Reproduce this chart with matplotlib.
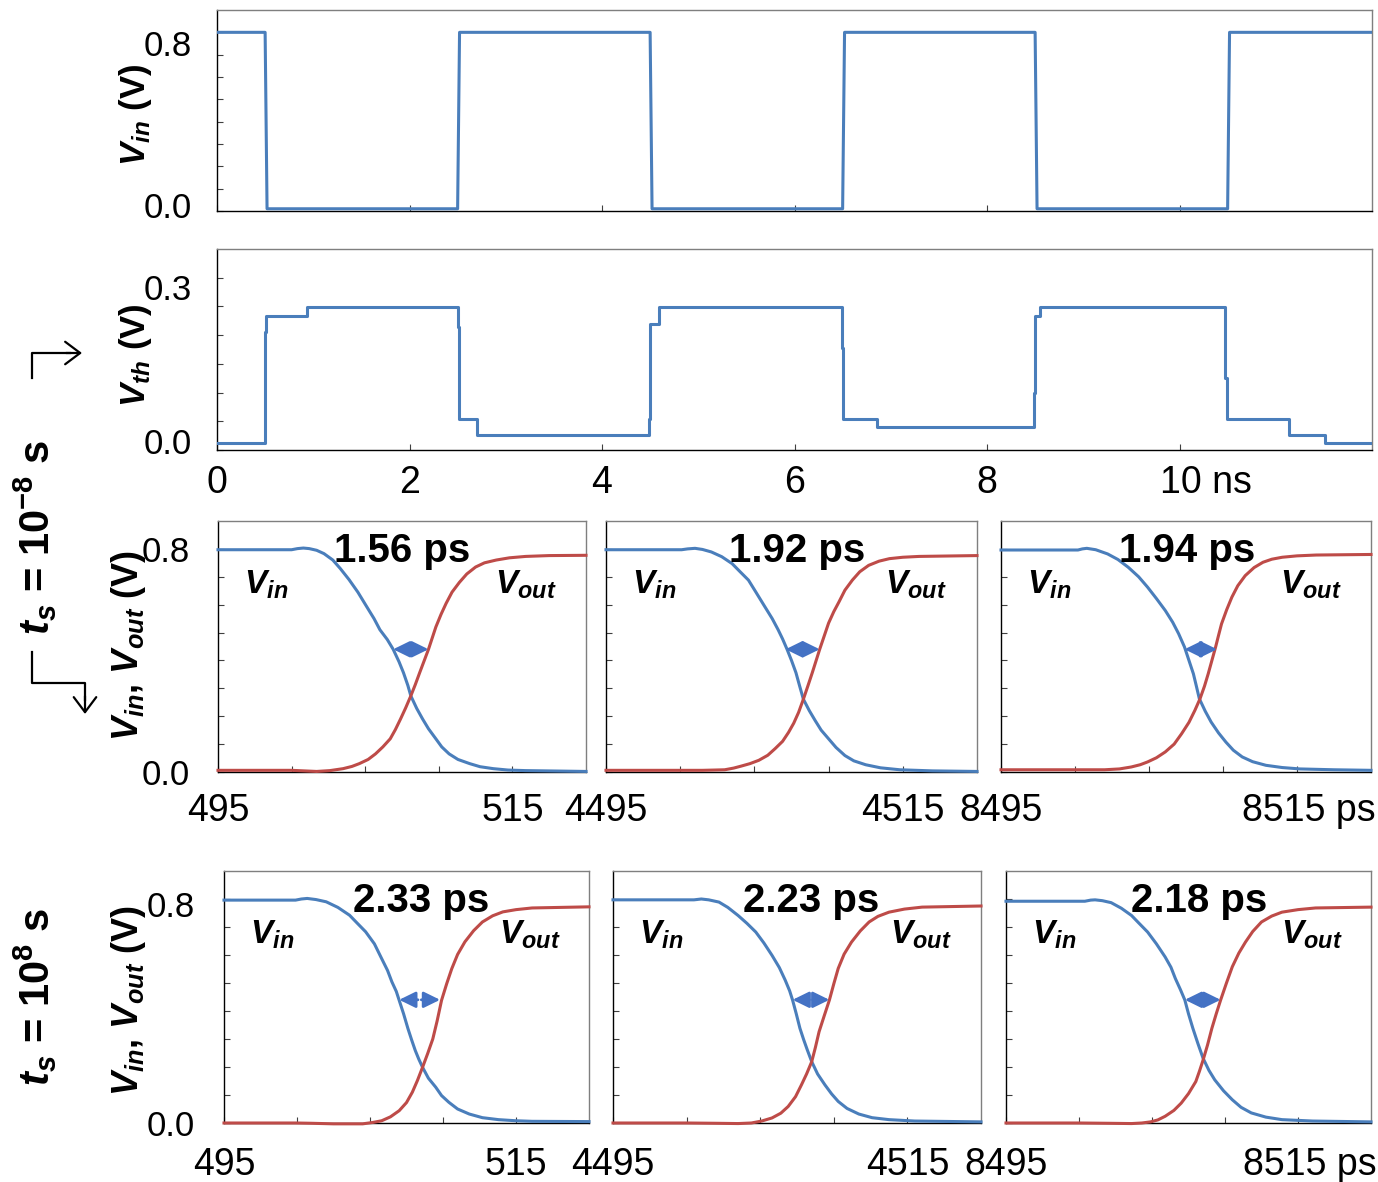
"""Inverter transient: input pulse train, threshold voltage and propagation delay panels."""

import matplotlib

matplotlib.use("Agg")
import matplotlib.pyplot as plt
from matplotlib.lines import Line2D
from matplotlib.transforms import ScaledTranslation

plt.rcParams["font.family"] = ["Liberation Sans", "DejaVu Sans"]
plt.rcParams["mathtext.fontset"] = "custom"
plt.rcParams["mathtext.rm"] = "Liberation Sans"
plt.rcParams["mathtext.it"] = "Liberation Sans:italic"
plt.rcParams["mathtext.bf"] = "Liberation Sans:bold"
plt.rcParams["mathtext.bfit"] = "Liberation Sans:italic:bold"

BLUE = "#4A7EBB"
RED = "#BE4B48"
ARROW = "#4472C4"

# ---- top panel: input pulse train (ns, V)
vin_t_ns = [0, 0.5, 0.52, 2.5, 2.52, 4.5, 4.52, 6.5, 6.52, 8.5, 8.52, 10.5, 10.52, 12]
vin_v = [0.8, 0.8, 0.01, 0.01, 0.8, 0.8, 0.01, 0.01, 0.8, 0.8, 0.01, 0.01, 0.8, 0.8]

# ---- second panel: threshold voltage (ns, V), step-post
vth_t_ns = [0, 0.50, 0.51, 0.93, 2.50, 2.51, 2.70, 4.49, 4.50, 4.59, 6.49, 6.50,
            6.86, 8.49, 8.50, 8.55, 10.47, 10.49, 11.14, 11.51, 12]
vth_v = [0.012, 0.205, 0.233, 0.249, 0.214, 0.054, 0.026, 0.054, 0.22, 0.249, 0.178, 0.054,
         0.04, 0.10, 0.233, 0.249, 0.125, 0.054, 0.026, 0.012, 0.012]

ns_ticks = [0, 2, 4, 6, 8, 10]
ns_labels = ["0", "2", "4", "6", "8", "10 ns"]

# ---- ts = 1e-8 s, three zoomed falling edges (ps, V)
fast1_vin_t = [495, 500, 500.4, 500.8, 501.2, 501.7, 502.2, 502.8, 503.3, 503.9, 504.5, 505.1,
               505.6, 506.0, 506.5, 506.9, 507.3, 507.6, 507.9, 508.1, 508.5, 508.9, 509.3,
               509.8, 510.2, 510.7, 511.3, 512.1, 512.8, 513.7, 514.7, 515.9, 520]
fast1_vin_v = [0.797, 0.797, 0.801, 0.803, 0.801, 0.795, 0.783, 0.76, 0.73, 0.69, 0.645, 0.593,
               0.55, 0.51, 0.475, 0.44, 0.395, 0.356, 0.31, 0.273, 0.228, 0.19, 0.155,
               0.119, 0.09, 0.065, 0.045, 0.03, 0.019, 0.012, 0.007, 0.005, 0.002]
fast1_vout_t = [495, 500, 501.7, 502.6, 503.5, 504.1, 504.6, 505.2, 505.7, 506.2, 506.7, 507.05,
                507.4, 507.75, 508.1, 508.4, 508.7, 509.0, 509.3, 509.55, 509.8, 510.15, 510.5,
                510.9, 511.4, 511.9, 512.5, 513.1, 513.9, 514.8, 515.9, 517.5, 520]
fast1_vout_v = [0.006, 0.006, 0.002, 0.005, 0.012, 0.02, 0.03, 0.045, 0.065, 0.09, 0.119, 0.152,
                0.19, 0.23, 0.273, 0.313, 0.356, 0.398, 0.44, 0.48, 0.52, 0.565, 0.605,
                0.645, 0.68, 0.71, 0.735, 0.75, 0.76, 0.768, 0.773, 0.776, 0.777]

fast2_vin_t = [4495, 4500.1, 4500.5, 4501, 4501.5, 4502.1, 4502.8, 4503.5, 4504.0, 4504.6,
               4505.1, 4505.7, 4506.2, 4506.6, 4506.9, 4507.2, 4507.5, 4507.8, 4508.05, 4508.3,
               4508.7, 4509.1, 4509.5, 4510.0, 4510.5, 4511.1, 4511.7, 4512.5, 4513.5, 4514.8,
               4517, 4520]
fast2_vin_v = [0.797, 0.797, 0.8, 0.802, 0.798, 0.789, 0.772, 0.747, 0.72, 0.688,
               0.645, 0.593, 0.55, 0.51, 0.477, 0.44, 0.4, 0.356, 0.308, 0.261,
               0.22, 0.184, 0.15, 0.119, 0.088, 0.059, 0.04, 0.026, 0.015, 0.008,
               0.004, 0.002]
fast2_vout_t = [4495, 4501.5, 4502.3, 4503.0, 4503.6, 4504.1, 4504.7, 4505.3, 4505.9, 4506.4,
                4506.9, 4507.3, 4507.65, 4507.98, 4508.3, 4508.6, 4508.9, 4509.15, 4509.4,
                4509.7, 4510.0, 4510.35, 4510.7, 4511.1, 4511.6, 4512.1, 4512.7, 4513.4,
                4514.1, 4515, 4516.1, 4520]
fast2_vout_v = [0.006, 0.006, 0.007, 0.008, 0.014, 0.021, 0.03, 0.042, 0.06, 0.084,
                0.11, 0.142, 0.175, 0.214, 0.261, 0.308, 0.356, 0.398, 0.44,
                0.487, 0.534, 0.575, 0.61, 0.652, 0.688, 0.718, 0.741, 0.756,
                0.765, 0.77, 0.773, 0.776]

fast3_vin_t = [8495, 8500.2, 8500.5, 8500.8, 8501.4, 8502.2, 8502.9, 8503.6, 8504.3, 8504.9,
               8505.5, 8506.1, 8506.6, 8507.0, 8507.4, 8507.7, 8508.0, 8508.2, 8508.4, 8508.8,
               8509.2, 8509.7, 8510.2, 8510.7, 8511.3, 8512.0, 8512.9, 8514, 8515.2, 8517.5, 8520]
fast3_vin_v = [0.796, 0.796, 0.8, 0.802, 0.797, 0.782, 0.762, 0.734, 0.7, 0.663,
               0.622, 0.579, 0.537, 0.496, 0.448, 0.4, 0.352, 0.308, 0.263, 0.218,
               0.179, 0.14, 0.107, 0.078, 0.054, 0.037, 0.024, 0.016, 0.011, 0.008, 0.006]
fast3_vout_t = [8495, 8502, 8503.0, 8503.8, 8504.4, 8504.9, 8505.5, 8506.1, 8506.7, 8507.2,
                8507.7, 8508.1, 8508.45, 8508.75, 8509.0, 8509.25, 8509.5, 8509.7, 8509.9,
                8510.25, 8510.6, 8511.0, 8511.5, 8512.1, 8512.7, 8513.3, 8514.0, 8515,
                8516.3, 8520]
fast3_vout_v = [0.008, 0.008, 0.011, 0.018, 0.026, 0.036, 0.051, 0.072, 0.1, 0.137,
                0.178, 0.221, 0.263, 0.308, 0.352, 0.4, 0.448, 0.49, 0.531,
                0.582, 0.627, 0.668, 0.704, 0.733, 0.752, 0.763, 0.77, 0.775,
                0.778, 0.78]

fast_delays = ["1.56 ps", "1.92 ps", "1.94 ps"]
fast_arrows = [(506.9, 509.3, 0.44), (4507.1, 4509.4, 0.44), (8507.4, 8509.6, 0.44)]

# ---- ts = 1e8 s
slow1_vin_t = [495, 499.9, 500.3, 500.7, 501.3, 502.0, 502.8, 503.6, 504.1, 504.7, 505.3,
               505.8, 506.2, 506.5, 506.8, 507.0, 507.3, 507.6, 507.85, 508.1, 508.35, 508.6,
               509.0, 509.5, 509.9, 510.4, 511.0, 511.8, 512.7, 513.8, 515, 516.1, 520]
slow1_vin_v = [0.796, 0.796, 0.8, 0.802, 0.798, 0.79, 0.77, 0.742, 0.715, 0.683, 0.64,
               0.587, 0.545, 0.504, 0.47, 0.438, 0.39, 0.337, 0.297, 0.259, 0.227, 0.199,
               0.16, 0.128, 0.098, 0.074, 0.05, 0.032, 0.019, 0.012, 0.008, 0.006, 0.005]
slow1_vout_t = [495, 499.9, 501, 502.5, 504.5, 505.2, 505.8, 506.4, 507.0, 507.5, 507.9,
                508.25, 508.6, 508.95, 509.3, 509.6, 509.9, 510.25, 510.6, 511.0, 511.5,
                512.1, 512.7, 513.4, 514.1, 515, 516.1, 520]
slow1_vout_v = [0.0, 0.0, -0.001, -0.003, -0.003, 0.002, 0.008, 0.022, 0.044, 0.073, 0.11,
                0.152, 0.199, 0.248, 0.3, 0.365, 0.438, 0.497, 0.551, 0.602, 0.647,
                0.687, 0.718, 0.74, 0.754, 0.762, 0.768, 0.772]

slow2_vin_t = [4495, 4500.5, 4501, 4501.5, 4502.2, 4502.8, 4503.5, 4504.1, 4504.7, 4505.25,
               4505.8, 4506.3, 4506.7, 4507.0, 4507.2, 4507.45, 4507.7, 4507.95, 4508.2,
               4508.5, 4508.9, 4509.4, 4509.85, 4510.3, 4510.9, 4511.7, 4512.6, 4513.75,
               4515.5, 4520]
slow2_vin_v = [0.797, 0.797, 0.8, 0.797, 0.789, 0.77, 0.741, 0.713, 0.682, 0.643,
               0.599, 0.555, 0.51, 0.472, 0.439, 0.39, 0.338, 0.298, 0.261,
               0.219, 0.175, 0.136, 0.104, 0.077, 0.052, 0.032, 0.019, 0.012,
               0.007, 0.004]
slow2_vout_t = [4495, 4500, 4502, 4503.5, 4504.4, 4505.1, 4505.8, 4506.4, 4506.9, 4507.4,
                4507.8, 4508.15, 4508.5, 4508.75, 4509.0, 4509.35, 4509.7, 4510.0, 4510.3,
                4510.7, 4511.2, 4511.8, 4512.4, 4513.0, 4513.75, 4514.8, 4516.0, 4520]
slow2_vout_v = [0.0, 0.0, -0.001, -0.002, 0.0, 0.007, 0.018, 0.035, 0.059, 0.094,
                0.136, 0.175, 0.219, 0.27, 0.326, 0.383, 0.439, 0.497, 0.552,
                0.603, 0.646, 0.686, 0.718, 0.738, 0.753, 0.764, 0.771, 0.775]

slow3_vin_t = [8495, 8500.4, 8500.8, 8501.1, 8501.6, 8502.2, 8502.9, 8503.6, 8504.1, 8504.7,
               8505.3, 8505.9, 8506.3, 8506.6, 8506.95, 8507.25, 8507.5, 8507.8, 8508.15,
               8508.5, 8508.9, 8509.3, 8509.9, 8510.5, 8511.1, 8511.8, 8512.8, 8513.9,
               8516, 8520]
slow3_vin_v = [0.792, 0.792, 0.796, 0.797, 0.794, 0.787, 0.767, 0.741, 0.714, 0.682,
               0.64, 0.593, 0.556, 0.516, 0.476, 0.439, 0.39, 0.338, 0.283,
               0.231, 0.188, 0.154, 0.115, 0.083, 0.056, 0.036, 0.021, 0.012,
               0.007, 0.004]
slow3_vout_t = [8495, 8500, 8502, 8503.6, 8504.3, 8504.9, 8505.4, 8505.9, 8506.5, 8507.0,
                8507.5, 8508.0, 8508.25, 8508.5, 8508.8, 8509.1, 8509.4, 8509.7, 8510.1,
                8510.5, 8510.95, 8511.4, 8511.9, 8512.5, 8513.2, 8513.9, 8515, 8516.2, 8520]
slow3_vout_v = [0.0, 0.0, -0.001, -0.002, 0.0, 0.004, 0.011, 0.024, 0.045, 0.071,
                0.105, 0.148, 0.185, 0.225, 0.278, 0.338, 0.39, 0.439, 0.5,
                0.558, 0.607, 0.646, 0.684, 0.718, 0.739, 0.753, 0.762, 0.768, 0.771]

slow_delays = ["2.33 ps", "2.23 ps", "2.18 ps"]
slow_arrows = [(507.0, 509.8, 0.44), (4507.2, 4509.7, 0.44), (8507.25, 8509.7, 0.44)]

zoom_starts = [495, 4495, 8495]
zoom_labels = [("495", "515"), ("4495", "4515"), ("8495", "8515 ps")]
volt_ticks = [0.0, 0.1, 0.2, 0.3, 0.4, 0.5, 0.6, 0.7, 0.8]
volt_labels = ["0.0", "", "", "", "", "", "", "", "0.8"]
vth_ticks = [0.0, 0.05, 0.1, 0.15, 0.2, 0.25, 0.3]
vth_labels = ["0.0", "", "", "", "", "", "0.3"]

W, H = 1378, 1182
fig = plt.figure(figsize=(W / 100, H / 100), dpi=100)


def px_box(left, top, right, bottom):
    return [left / W, 1 - bottom / H, (right - left) / W, (bottom - top) / H]


def shift(label, dx, dy):
    label.set_transform(label.get_transform() + ScaledTranslation(dx / 100, -dy / 100, fig.dpi_scale_trans))


def style_axes(ax):
    for side in ("left", "bottom"):
        ax.spines[side].set_color("black")
    for side in ("top", "right"):
        ax.spines[side].set_color("#7f7f7f")
    for spine in ax.spines.values():
        spine.set_linewidth(1.0)
    ax.tick_params(direction="in", length=4, width=0.8, color="#404040")
    ax.tick_params(axis="y", labelsize=25)
    ax.tick_params(axis="x", labelsize=27)


MATH_VIN = r"$\mathbfit{V}_{\mathbfit{in}}$"
MATH_VOUT = r"$\mathbfit{V}_{\mathbfit{out}}$"

# ---------- panel 1: Vin
ax1 = fig.add_axes(px_box(217, 10, 1372, 211))
style_axes(ax1)
ax1.plot(vin_t_ns, vin_v, color=BLUE, lw=2.2, zorder=3)
ax1.set_xlim(0, 12)
ax1.set_ylim(0, 0.9)
ax1.set_xticks(ns_ticks)
ax1.set_xticklabels([])
ax1.set_yticks(volt_ticks)
ax1.set_yticklabels(volt_labels)
ax1.tick_params(axis="y", pad=18)
ylabs = ax1.get_yticklabels()
shift(ylabs[0], 0, -6)
shift(ylabs[-1], 0, 11)

# ---------- panel 2: Vth
ax2 = fig.add_axes(px_box(217, 249, 1372, 450))
style_axes(ax2)
ax2.plot(vth_t_ns, vth_v, color=BLUE, lw=2.2, drawstyle="steps-post", zorder=3)
ax2.set_xlim(0, 12)
ax2.set_ylim(0, 0.35)
ax2.set_xticks(ns_ticks)
ax2.set_xticklabels(ns_labels)
ax2.set_yticks(vth_ticks)
ax2.set_yticklabels(vth_labels)
ax2.tick_params(axis="y", pad=18)
ax2.tick_params(axis="x", pad=11)
ylabs = ax2.get_yticklabels()
shift(ylabs[0], 0, -9)
shift(ylabs[-1], 0, 9)
shift(ax2.get_xticklabels()[-1], 26, 0)

fig.text(135 / W, 1 - 115 / H, MATH_VIN + " (V)", rotation=90, ha="center", va="center",
         fontsize=25, fontweight="bold")
fig.text(135 / W, 1 - 355 / H, r"$\mathbfit{V}_{\mathbfit{th}}$ (V)", rotation=90,
         ha="center", va="center", fontsize=25, fontweight="bold")


def zoom_row(boxes, vins, vouts, delays, arrows, text_x, ylab_y, xpad, ypad, ylab_dy):
    for i, box in enumerate(boxes):
        ax = fig.add_axes(px_box(*box))
        style_axes(ax)
        (vt, vv), (ot, ov) = vins[i], vouts[i]
        ax.plot(vt, vv, color=BLUE, lw=2.2, zorder=3, clip_on=False, solid_joinstyle="round")
        ax.plot(ot, ov, color=RED, lw=2.2, zorder=3, clip_on=False, solid_joinstyle="round")
        start = zoom_starts[i]
        ax.set_xlim(start, start + 25)
        ax.set_ylim(0, 0.9)
        ax.set_xticks([start + k for k in (0, 5, 10, 15, 20)])
        lo, hi = zoom_labels[i]
        ax.set_xticklabels([lo, "", "", "", hi])
        ax.tick_params(axis="x", pad=xpad)
        ax.set_yticks(volt_ticks)
        if i == 0:
            ax.set_yticklabels(volt_labels)
            ax.tick_params(axis="y", pad=ypad)
            shift(ax.get_yticklabels()[-1], 0, ylab_dy)
        else:
            ax.set_yticklabels([])
        if i == 2:
            shift(ax.get_xticklabels()[-1], 12, 0)

        t0, t1, v = arrows[i]
        mid = (t0 + t1) / 2
        for end in (t0, t1):
            ax.annotate("", xy=(end, v), xytext=(mid, v),
                        arrowprops=dict(arrowstyle="-|>,head_length=0.55,head_width=0.27",
                                        color=ARROW, lw=2, mutation_scale=18,
                                        shrinkA=1.2, shrinkB=0), zorder=4)
        ax.text(text_x[i], 0.88, delays[i], transform=ax.transAxes, ha="center", va="center",
                fontsize=29, fontweight="bold", zorder=5)
        ax.text(0.07, 0.745, MATH_VIN, transform=ax.transAxes, ha="left", va="center", fontsize=24)
        ax.text(0.753, 0.745, MATH_VOUT, transform=ax.transAxes, ha="left", va="center", fontsize=24)

    fig.text(129 / W, 1 - ylab_y / H, MATH_VIN + ", " + MATH_VOUT + " (V)", rotation=90,
             ha="center", va="center", fontsize=26, fontweight="bold")


zoom_row([(218, 521, 586, 772), (606, 521, 977, 772), (1001, 521, 1371, 772)],
         [(fast1_vin_t, fast1_vin_v), (fast2_vin_t, fast2_vin_v), (fast3_vin_t, fast3_vin_v)],
         [(fast1_vout_t, fast1_vout_v), (fast2_vout_t, fast2_vout_v), (fast3_vout_t, fast3_vout_v)],
         fast_delays, fast_arrows, [0.50, 0.515, 0.503], 645, 15, 20, 0)

zoom_row([(224, 871, 589, 1123), (613, 871, 981, 1123), (1006, 871, 1371, 1123)],
         [(slow1_vin_t, slow1_vin_v), (slow2_vin_t, slow2_vin_v), (slow3_vin_t, slow3_vin_v)],
         [(slow1_vout_t, slow1_vout_v), (slow2_vout_t, slow2_vout_v), (slow3_vout_t, slow3_vout_v)],
         slow_delays, slow_arrows, [0.54, 0.538, 0.529], 1000, 17, 21, 5)

# ---------- left-hand condition labels and bent arrows
fig.text(35 / W, 1 - 537 / H, r"$\mathbfit{t}_{\mathbfit{s}}$ = 10$^{\mathbf{-8}}$ s", rotation=90,
         ha="center", va="center", fontsize=30, fontweight="bold")
fig.text(35 / W, 1 - 997 / H, r"$\mathbfit{t}_{\mathbfit{s}}$ = 10$^{\mathbf{8}}$ s", rotation=90,
         ha="center", va="center", fontsize=30, fontweight="bold")

fig.add_artist(Line2D([32 / W, 32 / W, 70 / W], [1 - 378 / H, 1 - 353 / H, 1 - 353 / H],
                      transform=fig.transFigure, color="black", lw=1.6))
fig.add_artist(Line2D([32 / W, 32 / W, 85 / W, 85 / W],
                      [1 - 652 / H, 1 - 683 / H, 1 - 683 / H, 1 - 700 / H],
                      transform=fig.transFigure, color="black", lw=1.6))
plt.annotate("", xy=(82 / W, 1 - 353 / H), xytext=(66 / W, 1 - 353 / H), xycoords="figure fraction",
             arrowprops=dict(arrowstyle="->,head_length=0.6,head_width=0.45", lw=1.6,
                             color="black", mutation_scale=18, shrinkA=0, shrinkB=0))
plt.annotate("", xy=(85 / W, 1 - 714 / H), xytext=(85 / W, 1 - 696 / H), xycoords="figure fraction",
             arrowprops=dict(arrowstyle="->,head_length=0.6,head_width=0.45", lw=1.6,
                             color="black", mutation_scale=18, shrinkA=0, shrinkB=0))

fig.savefig("out.png", dpi=100)
